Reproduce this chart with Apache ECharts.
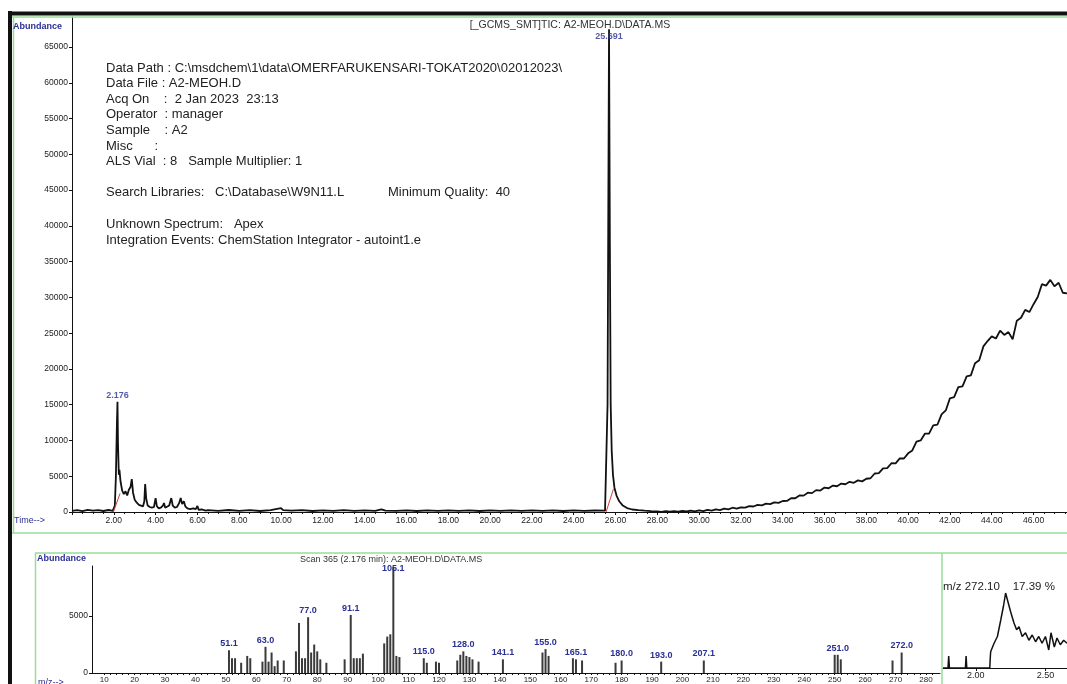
<!DOCTYPE html>
<html><head><meta charset="utf-8">
<script src="https://cdn.jsdelivr.net/npm/echarts@6/dist/echarts.min.js"></script>
<style>html,body{margin:0;padding:0;background:#fff}#c{width:1067px;height:684px}</style>
</head><body><div id="c"></div>
<script>
// ---- TIC chromatogram (time in min, abundance) ----
const ticTime = [
 0.00,0.25,0.50,0.75,1.00,1.25,1.50,1.75,1.95,
 2.00,2.05,2.10,2.15,2.176,2.20,2.24,2.27,2.32,2.40,2.48,2.56,2.64,2.72,2.80,2.86,2.92,3.00,3.10,3.20,3.30,3.40,3.46,3.50,3.55,3.62,3.72,3.82,3.92,4.00,4.06,4.15,4.25,4.35,4.40,4.46,4.55,4.65,4.75,4.82,4.92,5.02,5.12,5.20,5.27,5.35,5.42,5.52,5.65,5.80,5.92,6.00,6.06,6.20,6.40,
 6.5,7.0,7.5,8.0,8.5,9.0,9.5,10.0,10.1,10.5,11.0,11.5,12.0,12.5,13.0,13.5,14.0,14.5,14.8,15.0,15.5,16.0,16.5,17.0,17.5,18.0,18.5,19.0,19.5,20.0,20.5,21.0,21.5,22.0,22.5,23.0,23.5,24.0,24.5,25.0,25.5,
 25.56,25.62,25.691,25.73,25.77,25.82,25.88,25.95,26.05,26.18,26.35,26.55,26.80,27.10,27.40,27.70,
 28.0,28.2,28.4,28.6,28.8,29.0,29.2,29.4,29.6,29.8,30.0,30.2,30.4,30.6,30.8,31.0,31.2,31.4,31.6,31.8,
 32.0,32.2,32.4,32.6,32.8,33.0,33.2,33.4,33.6,33.8,34.0,34.2,34.4,34.6,34.8,35.0,35.2,35.4,35.6,35.8,
 36.0,36.2,36.4,36.6,36.8,37.0,37.2,37.4,37.6,37.8,38.0,38.2,38.4,38.6,38.8,39.0,39.2,39.4,39.6,39.8,
 40.0,40.2,40.4,40.6,40.8,41.0,41.2,41.4,41.6,41.8,42.0,42.2,42.4,42.6,42.8,43.0,43.2,43.4,43.6,43.8,
 44.0,44.2,44.4,44.6,44.8,45.0,45.2,45.4,45.6,45.8,46.0,46.2,46.4,46.6,46.8,47.0,47.2,47.4,47.6
];
const ticAbund = [
 150,250,120,300,180,260,140,280,150,
 200,900,5000,12500,15400,9500,5200,5900,4300,3000,2500,2900,2300,3100,3500,4600,2700,1700,1300,1000,900,800,1500,3900,1900,900,700,600,700,1950,800,500,600,900,1250,600,500,900,1950,900,600,700,1200,1950,1100,1500,800,500,400,500,400,850,300,350,200,
 250,150,280,160,260,140,270,550,250,180,260,140,240,160,250,150,230,170,380,200,150,240,140,230,150,240,160,230,140,220,150,240,160,220,150,230,140,220,150,210,180,
 300,15000,67500,38000,15000,8500,5200,3400,2300,1500,900,550,350,250,180,120,
 80,20,110,40,130,60,150,70,180,90,220,120,310,200,380,260,470,360,600,470,
 660,620,830,770,990,930,1160,1110,1350,1280,1540,1550,1930,1920,2320,2290,2700,2640,3060,3000,
 3420,3320,3700,3600,3980,3880,4220,4080,4420,4280,4650,4720,5380,5430,6100,6140,6820,6800,7500,7480,
 8200,8600,9850,10000,10950,10950,12100,12200,13650,14200,15900,16050,17450,17550,18950,19100,20800,21200,23150,23900,
 24550,24250,25350,24750,25150,24150,26750,27150,28250,27950,29050,30050,31850,31650,32450,31550,32050,30650,30550
];
const ticPeakTimes = [2.176, 25.691];
const ticPeakHeights = [15400, 67500];
const ticPeakLabels = ['2.176', '25.691'];
// integration baselines (red)
const integ1 = [[1.98, 0], [2.30, 2600]];
const integ2 = [[25.55, 0], [25.90, 3200]];
const ticYTicks = [0,5000,10000,15000,20000,25000,30000,35000,40000,45000,50000,55000,60000,65000];

// ---- Mass spectrum, scan 365 (2.176 min) ----
const msMz = [51,52,53,55,57,58,62,63,64,65,66,67,69,73,74,75,76,77,78,79,80,81,83,89,91,92,93,94,95,102,103,104,105,106,107,
 115,116,119,120,126,127,128,129,130,131,133,141,154,155,156,164,165,167,178,180,193,207,250,251,252,269,272];
const msAbund = [2000,1300,1300,900,1500,1300,1000,2300,1000,1800,600,1100,1100,1900,4400,1300,1300,4900,1800,2500,1900,1200,900,1200,5100,1300,1300,1300,1700,2600,3200,3400,9300,1500,1400,
 1300,900,1000,900,1100,1600,1900,1500,1400,1200,1000,1200,1800,2100,1500,1300,1200,1100,900,1100,1000,1100,1600,1600,1200,1100,1800];
const msLabelMz = [51,63,77,91,105,115,128,141,155,165,180,193,207,251,272];
const msLabelText = ['51.1','63.0','77.0','91.1','105.1','115.0','128.0','141.1','155.0','165.1','180.0','193.0','207.1','251.0','272.0'];
const msXLabels = [10,20,30,40,50,60,70,80,90,100,110,120,130,140,150,160,170,180,190,200,210,220,230,240,250,260,270,280];

// ---- Extracted ion m/z 272.10 ----
const miniTime = [1.764,1.80,1.805,1.81,1.925,1.93,1.935,2.10,2.105,2.107,2.131,2.155,2.179,2.198,2.214,2.231,2.25,2.274,2.293,2.31,2.333,2.357,2.381,2.405,2.429,2.452,2.476,2.50,2.524,2.54,2.564,2.583,2.607,2.631,2.655];
const miniPct  = [0,0,16,0,0,16,0,0,18,22,33,42,64,82,100,88,75,60,51,55,42,47,37,44,35,42,33,42,24,47,28,40,31,37,33];
const miniXLabels = [2.0, 2.5];

const metaLines = [
 'Data Path : C:\\msdchem\\1\\data\\OMERFARUKENSARI-TOKAT2020\\02012023\\',
 'Data File : A2-MEOH.D',
 'Acq On    :  2 Jan 2023  23:13',
 'Operator  : manager',
 'Sample    : A2',
 'Misc      :',
 'ALS Vial  : 8   Sample Multiplier: 1'
];

const FONT = '"Liberation Sans", Arial, sans-serif';
const BLUE = '#2a2f96';
const GREEN = '#98dc98';

const ticData = ticTime.map((t, i) => [t, ticAbund[i]]);
const msData = msMz.map((m, i) => {
  const k = msLabelMz.indexOf(m);
  const item = { value: [m, msAbund[i]] };
  if (k >= 0) {
    item.label = { show: true, formatter: msLabelText[k], position: 'top', distance: 2,
      color: BLUE, fontSize: 9, fontWeight: 'bold', fontFamily: FONT,
      offset: m === 105 ? [0, 8] : [0, 0] };
  }
  return item;
});
const miniData = miniTime.map((t, i) => [t, miniPct[i]]);
const peakData = ticPeakTimes.map((t, i) => ({ value: [t, ticPeakHeights[i]],
  label: { show: true, formatter: ticPeakLabels[i], position: 'top', distance: i === 1 ? -12 : 2,
    color: BLUE, fontSize: 9, fontWeight: 'bold', fontFamily: FONT } }));

const txt = (text, x, y, opt) => Object.assign({ type: 'text', z: 10, style: Object.assign({ text, x, y, fill: '#222',
  font: '11px ' + FONT, verticalAlign: 'middle' }, opt || {}) });
const ln = (x1, y1, x2, y2, color, w) => ({ type: 'line', z: 1, shape: { x1, y1, x2, y2 }, style: { stroke: color, lineWidth: w } });

const META_FONT = '13px ' + FONT;
const graphics = [
  ln(8, 13.5, 1067, 13.5, '#111', 4),
  ln(10, 11, 10, 684, '#111', 4),
  ln(12, 17, 1067, 17, GREEN, 1.5),
  ln(13.5, 17, 13.5, 533, GREEN, 1.5),
  ln(12, 533, 1067, 533, GREEN, 1.5),
  ln(35, 553, 1067, 553, GREEN, 1.5),
  ln(35.5, 553, 35.5, 684, GREEN, 1.5),
  ln(942, 553, 942, 684, GREEN, 1.5),
  txt('Abundance', 13, 27, { fill: BLUE, font: 'bold 9px ' + FONT }),
  txt('[_GCMS_SMT]TIC: A2-MEOH.D\\DATA.MS', 570, 25, { align: 'center', font: '10.5px ' + FONT, fill: '#333' }),
  txt('Time-->', 14, 521, { fill: BLUE, font: '9px ' + FONT }),
  txt('Search Libraries:   C:\\Database\\W9N11.L', 106, 192, { font: META_FONT }),
  txt('Minimum Quality:  40', 388, 192, { font: META_FONT }),
  txt('Unknown Spectrum:   Apex', 106, 224, { font: META_FONT }),
  txt('Integration Events: ChemStation Integrator - autoint1.e', 106, 240, { font: META_FONT }),
  txt('Abundance', 37, 559, { fill: BLUE, font: 'bold 9px ' + FONT }),
  txt('Scan 365 (2.176 min): A2-MEOH.D\\DATA.MS', 300, 560, { font: '9px ' + FONT, fill: '#333' }),
  txt('m/z-->', 38, 683, { fill: BLUE, font: '9px ' + FONT }),
  txt('m/z 272.10    17.39 %', 943, 587, { font: '11.5px ' + FONT, fill: '#222' })
];
metaLines.forEach((s, i) => graphics.push(txt(s, 106, 68 + i * 15.6, { font: META_FONT })));

const axisCommon = { axisLine: { show: true, lineStyle: { color: '#111', width: 1 } },
  axisTick: { show: true, length: 3, lineStyle: { color: '#111' } }, splitLine: { show: false } };
const plain = v => String(v);

const chart = echarts.init(document.getElementById('c'), null, { renderer: 'canvas' });
chart.setOption({
  animation: false,
  backgroundColor: '#fff',
  graphic: graphics,
  grid: [
    { left: 72, top: 17, right: 0, bottom: 172 },
    { left: 92, top: 566, width: 848, bottom: 9 },
    { left: 943, top: 593, right: 0, bottom: 16 }
  ],
  xAxis: [
    Object.assign({}, axisCommon, { type: 'value', gridIndex: 0, min: 0, max: 47.6, interval: 2,
      minorTick: { show: true, splitNumber: 4, length: 2, lineStyle: { color: '#111' } },
      axisLabel: { fontSize: 8.5, color: '#222', margin: 4, fontFamily: FONT, showMinLabel: false, showMaxLabel: false,
        formatter: v => v.toFixed(2) } }),
    Object.assign({}, axisCommon, { type: 'value', gridIndex: 1, min: 6, max: 284.6,
      axisTick: { show: true, length: 2, customValues: msXLabels.flatMap(v => [v, v + 2, v + 4, v + 6, v + 8]).filter(v => v < 284), lineStyle: { color: '#111' } },
      axisLabel: { fontSize: 8, color: '#222', margin: 3, fontFamily: FONT, customValues: msXLabels, formatter: plain } }),
    Object.assign({}, axisCommon, { type: 'value', gridIndex: 2, min: 1.764, max: 2.655,
      axisTick: { show: true, length: 3, customValues: miniXLabels, lineStyle: { color: '#111' } },
      axisLabel: { fontSize: 9, color: '#222', margin: 3, fontFamily: FONT, customValues: miniXLabels, formatter: v => v.toFixed(2) } })
  ],
  yAxis: [
    Object.assign({}, axisCommon, { type: 'value', gridIndex: 0, min: 0, max: 69200,
      axisTick: { show: true, length: 3, customValues: ticYTicks, lineStyle: { color: '#111' } },
      axisLabel: { fontSize: 8.5, color: '#222', margin: 4, fontFamily: FONT, customValues: ticYTicks, formatter: plain } }),
    Object.assign({}, axisCommon, { type: 'value', gridIndex: 1, min: 0, max: 9400,
      axisTick: { show: true, length: 3, customValues: [0, 5000], lineStyle: { color: '#111' } },
      axisLabel: { fontSize: 8.5, color: '#222', margin: 4, fontFamily: FONT, customValues: [0, 5000], formatter: plain } }),
    { type: 'value', gridIndex: 2, min: 0, max: 100, show: false }
  ],
  series: [
    { type: 'line', xAxisIndex: 0, yAxisIndex: 0, data: ticData, showSymbol: false, symbol: 'none',
      lineStyle: { color: '#111', width: 1.8 }, z: 3 },
    { type: 'line', xAxisIndex: 0, yAxisIndex: 0, data: integ1, symbol: 'none', lineStyle: { color: '#d04040', width: 1 }, z: 4 },
    { type: 'line', xAxisIndex: 0, yAxisIndex: 0, data: integ2, symbol: 'none', lineStyle: { color: '#d04040', width: 1 }, z: 4 },
    { type: 'scatter', xAxisIndex: 0, yAxisIndex: 0, data: peakData, symbolSize: 0.1, itemStyle: { color: 'transparent' }, z: 5 },
    { type: 'bar', xAxisIndex: 1, yAxisIndex: 1, data: msData, barWidth: 2, itemStyle: { color: '#3a3a3a' }, z: 3 },
    { type: 'line', xAxisIndex: 2, yAxisIndex: 2, data: miniData, symbol: 'none', lineStyle: { color: '#111', width: 1.5 }, z: 3 }
  ]
});
</script></body></html>
